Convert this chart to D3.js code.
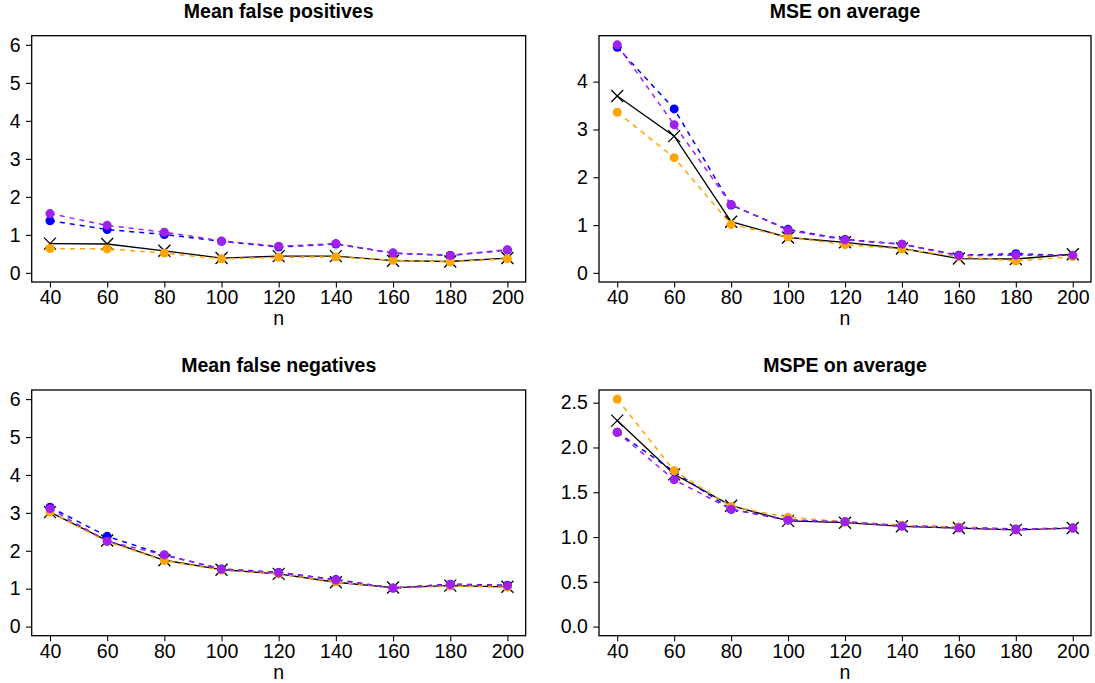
<!DOCTYPE html>
<html>
<head>
<meta charset="utf-8">
<script src="https://cdn.jsdelivr.net/npm/d3@7"></script>
<style>
  body { margin: 0; background: #fff; }
  svg { display: block; font-family: "Liberation Sans", Arial, sans-serif; }
</style>
</head>
<body>
<div id="container"></div>
<script>
let nValues = [40, 60, 80, 100, 120, 140, 160, 180, 200]

let titles = ['Mean false positives', 'MSE on average', 'Mean false negatives', 'MSPE on average']

// mean false positives
let fpBlack  = [0.77, 0.76, 0.58, 0.39, 0.44, 0.44, 0.32, 0.30, 0.39]
let fpBlue   = [1.37, 1.14, 1.01, 0.83, 0.68, 0.76, 0.52, 0.46, 0.60]
let fpOrange = [0.64, 0.63, 0.52, 0.37, 0.41, 0.42, 0.33, 0.29, 0.37]
let fpPurple = [1.56, 1.25, 1.07, 0.84, 0.70, 0.77, 0.52, 0.46, 0.61]

// MSE
let mseBlack  = [3.70, 2.86, 1.07, 0.74, 0.64, 0.51, 0.30, 0.29, 0.39]
let mseBlue   = [4.72, 3.43, 1.42, 0.91, 0.70, 0.60, 0.37, 0.40, 0.36]
let mseOrange = [3.36, 2.41, 1.01, 0.75, 0.59, 0.50, 0.34, 0.25, 0.34]
let msePurple = [4.77, 3.10, 1.43, 0.89, 0.69, 0.60, 0.36, 0.37, 0.37]

// mean false negatives
let fnBlack  = [3.02, 2.27, 1.75, 1.50, 1.39, 1.17, 1.03, 1.08, 1.05]
let fnBlue   = [3.15, 2.38, 1.89, 1.52, 1.43, 1.24, 1.02, 1.12, 1.09]
let fnOrange = [3.02, 2.24, 1.74, 1.49, 1.39, 1.18, 1.02, 1.07, 1.04]
let fnPurple = [3.11, 2.25, 1.89, 1.51, 1.42, 1.23, 1.01, 1.11, 1.08]

// MSPE
let mspeBlack  = [2.30, 1.70, 1.35, 1.18, 1.16, 1.12, 1.10, 1.08, 1.10]
let mspeBlue   = [2.17, 1.73, 1.31, 1.19, 1.17, 1.13, 1.11, 1.09, 1.10]
let mspeOrange = [2.54, 1.74, 1.34, 1.22, 1.17, 1.13, 1.11, 1.08, 1.10]
let mspePurple = [2.17, 1.64, 1.31, 1.19, 1.17, 1.12, 1.10, 1.08, 1.10]

let countTicks = [0, 1, 2, 3, 4, 5, 6]
let mseTicks = [0, 1, 2, 3, 4]
let mspeTicks = [0, 0.5, 1, 1.5, 2, 2.5]

let width = 1095,
  height = 683

let svg = d3.select('#container')
  .append('svg')
  .attr('width', width)
  .attr('height', height)

let colors = { black: '#000000', blue: '#0000ff', orange: '#ffa500', purple: '#a020f0' }

let panels = [
  { title: titles[0], box: [31.7, 525.7, 35.7, 282], ymax: 6, ticks: countTicks, fmt: d3.format('d'),
    series: { black: fpBlack, blue: fpBlue, orange: fpOrange, purple: fpPurple } },
  { title: titles[1], box: [599, 1091, 35.7, 282], ymax: null, ticks: mseTicks, fmt: d3.format('d'),
    series: { black: mseBlack, blue: mseBlue, orange: mseOrange, purple: msePurple } },
  { title: titles[2], box: [31.7, 525.7, 390, 635.7], ymax: 6, ticks: countTicks, fmt: d3.format('d'),
    series: { black: fnBlack, blue: fnBlue, orange: fnOrange, purple: fnPurple } },
  { title: titles[3], box: [599, 1091, 390, 635.7], ymax: null, ticks: mspeTicks, fmt: d3.format('.1f'),
    series: { black: mspeBlack, blue: mspeBlue, orange: mspeOrange, purple: mspePurple } }
]

// R style axis limits: data range widened by 4% on each side
function pad(lo, hi) {
  let d = (hi - lo) * 0.04
  return [lo - d, hi + d]
}

panels.forEach(function (p) {
  let [x0, x1, y0, y1] = p.box
  let ymax = p.ymax != null ? p.ymax : d3.max(Object.values(p.series), s => d3.max(s))

  let scale_x = d3.scaleLinear()
    .domain(pad(d3.min(nValues), d3.max(nValues)))
    .range([x0, x1])
  let scale_y = d3.scaleLinear()
    .domain(pad(0, ymax))
    .range([y1, y0])

  let g = svg.append('g')

  // axes
  let x_axis = d3.axisBottom(scale_x).tickValues(nValues).tickSize(5.5).tickPadding(2.5)
  let y_axis = d3.axisLeft(scale_y).tickValues(p.ticks).tickFormat(p.fmt).tickSize(5.7).tickPadding(5.5)

  let gx = g.append('g').attr('transform', 'translate(0,' + y1 + ')').call(x_axis)
  let gy = g.append('g').attr('transform', 'translate(' + x0 + ',0)').call(y_axis)
  ;[gx, gy].forEach(function (a) {
    a.select('.domain').remove()
    a.selectAll('line').attr('stroke', '#000').attr('stroke-width', 1.1)
    a.selectAll('text').attr('fill', '#000').style('font-size', '19.5px')
      .style('font-family', '"Liberation Sans", Arial, sans-serif')
  })

  // box
  g.append('rect')
    .attr('x', x0).attr('y', y0)
    .attr('width', x1 - x0).attr('height', y1 - y0)
    .attr('fill', 'none').attr('stroke', '#000').attr('stroke-width', 1.3)

  // titles
  g.append('text')
    .attr('x', (x0 + x1) / 2).attr('y', y0 - 18.2)
    .attr('text-anchor', 'middle')
    .style('font-size', '19.5px').style('font-weight', 'bold')
    .text(p.title)

  g.append('text')
    .attr('x', (x0 + x1) / 2).attr('y', y1 + 43)
    .attr('text-anchor', 'middle')
    .style('font-size', '19.5px')
    .text('n')

  let line_generator = d3.line()
    .x((d, i) => scale_x(nValues[i]))
    .y(d => scale_y(d))

  let plot = g.append('g')

  ;['black', 'blue', 'orange', 'purple'].forEach(function (key) {
    let vals = p.series[key]
    plot.append('path')
      .attr('d', line_generator(vals))
      .attr('fill', 'none')
      .attr('stroke', colors[key])
      .attr('stroke-width', key === 'black' ? 1.3 : 1.5)
      .attr('stroke-dasharray', key === 'black' ? null : '5,5')

    if (key === 'black') {
      plot.selectAll(null).data(vals).enter().append('path')
        .attr('d', function (d, i) {
          let cx = scale_x(nValues[i]), cy = scale_y(d), r = 6
          return 'M' + (cx - r) + ',' + (cy - r) + 'L' + (cx + r) + ',' + (cy + r) +
            'M' + (cx - r) + ',' + (cy + r) + 'L' + (cx + r) + ',' + (cy - r)
        })
        .attr('stroke', '#000').attr('stroke-width', 1.3).attr('fill', 'none')
    } else {
      plot.selectAll(null).data(vals).enter().append('circle')
        .attr('cx', (d, i) => scale_x(nValues[i]))
        .attr('cy', d => scale_y(d))
        .attr('r', 4.5)
        .attr('fill', colors[key])
    }
  })
})
</script>
</body>
</html>
